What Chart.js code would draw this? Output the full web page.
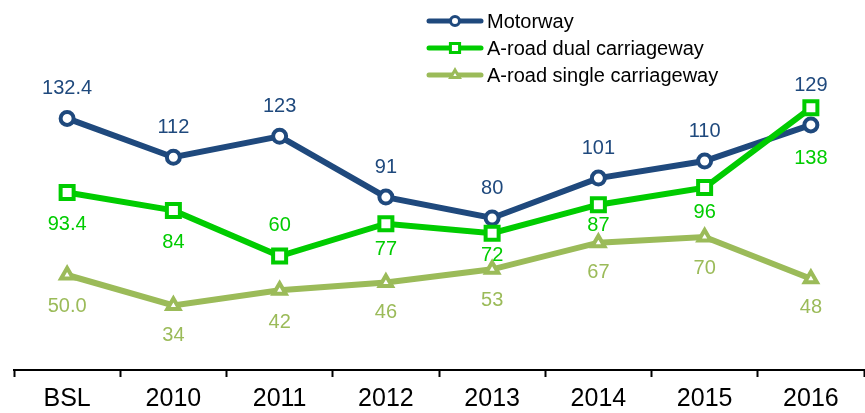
<!DOCTYPE html>
<html>
<head>
<meta charset="utf-8">
<script src="https://cdn.jsdelivr.net/npm/chart.js@4.4.1/dist/chart.umd.min.js"></script>
<style>
  body { margin: 0; background: #fff; }
  canvas { display: block; }
</style>
</head>
<body>
<canvas id="roadChart" width="865" height="413"></canvas>
<script>
const years = ["BSL", "2010", "2011", "2012", "2013", "2014", "2015", "2016"];
const motorway = [132.4, 112, 123, 91, 80, 101, 110, 129];
const dualCarriageway = [93.4, 84, 60, 77, 72, 87, 96, 138];
const singleCarriageway = [50.0, 34, 42, 46, 53, 67, 70, 48];

const FONT = "'Liberation Sans', Arial, sans-serif";

// how far each value label sits from its point (negative = above)
const labelShift = [
    [-30, -30, -30, -30, -30, -30, -30, -39],
    [32, 32, -31, 26, 22, 21, 25, 51],
    [31, 30, 32, 30, 31, 30, 31, 29]
];

function fmt(v, i){
    return i === 0 ? v.toFixed(1) : v.toFixed(0);
}

const valueLabels = {
    id: "valueLabels",
    afterDatasetsDraw(chart){
        let ctx = chart.ctx;
        ctx.save();
        ctx.font = "20px " + FONT;
        ctx.textAlign = "center";
        ctx.textBaseline = "middle";
        chart.data.datasets.forEach((ds, d) => {
            let meta = chart.getDatasetMeta(d);
            meta.data.forEach((pt, i) => {
                ctx.fillStyle = ds.borderColor;
                ctx.fillText(fmt(ds.data[i], i), pt.x, pt.y + labelShift[d][i]);
            });
        });
        ctx.restore();
    }
};

// legend: small sizes for the markers in the key
const legendMarks = [4.5, 6.5, 5];

const legendBox = {
    id: "legendBox",
    afterDraw(chart){
        let ctx = chart.ctx;
        let rows = [21, 48, 75];
        ctx.save();
        chart.data.datasets.forEach((ds, d) => {
            let y = rows[d];
            ctx.strokeStyle = ds.borderColor;
            ctx.lineWidth = 5;
            ctx.lineCap = "round";
            ctx.beginPath();
            ctx.moveTo(429, y);
            ctx.lineTo(481, y);
            ctx.stroke();
            ctx.fillStyle = "#fff";
            ctx.lineWidth = 3;
            Chart.helpers.drawPoint(ctx, {
                pointStyle: ds.pointStyle,
                radius: legendMarks[d],
                rotation: 0,
                borderWidth: 3
            }, 455, y);
            ctx.fillStyle = "#000";
            ctx.font = "20px " + FONT;
            ctx.textAlign = "left";
            ctx.textBaseline = "middle";
            ctx.fillText(ds.label, 487, y + 1);
        });
        ctx.restore();
    }
};

new Chart(document.getElementById("roadChart"), {
    type: "line",
    data: {
        labels: years,
        datasets: [
            {
                label: "Motorway",
                data: motorway,
                borderColor: "#1f497d",
                backgroundColor: "#fff",
                borderWidth: 6,
                pointStyle: "circle",
                pointRadius: 6.5,
                pointBorderWidth: 4,
                order: 2
            },
            {
                label: "A-road dual carriageway",
                data: dualCarriageway,
                borderColor: "#00cc00",
                backgroundColor: "#fff",
                borderWidth: 6,
                pointStyle: "rect",
                pointRadius: 9.2,
                pointBorderWidth: 4,
                order: 1
            },
            {
                label: "A-road single carriageway",
                data: singleCarriageway,
                borderColor: "#9bbb59",
                backgroundColor: "#fff",
                borderWidth: 6,
                pointStyle: "triangle",
                pointRadius: 7,
                pointBorderWidth: 4,
                order: 3
            }
        ]
    },
    options: {
        responsive: false,
        animation: false,
        layout: { autoPadding: false, padding: { left: 14, right: 1, top: 28, bottom: 0 } },
        plugins: {
            legend: { display: false },
            tooltip: { enabled: false }
        },
        elements: { line: { tension: 0 } },
        scales: {
            x: {
                offset: true,
                afterFit(scale){ scale.height = 43; },
                grid: {
                    offset: true,
                    drawOnChartArea: false,
                    drawTicks: true,
                    tickLength: 7,
                    tickWidth: 2,
                    tickColor: "#000"
                },
                border: { display: true, color: "#000", width: 2 },
                ticks: {
                    color: "#000",
                    font: { size: 25, family: FONT },
                    padding: 7,
                    maxRotation: 0
                }
            },
            y: {
                display: false,
                min: 0,
                max: 180
            }
        }
    },
    plugins: [valueLabels, legendBox]
});
</script>
</body>
</html>
